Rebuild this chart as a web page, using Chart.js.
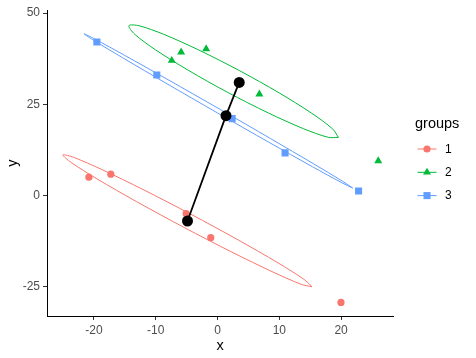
<!DOCTYPE html>
<html><head><meta charset="utf-8">
<script src="https://cdn.jsdelivr.net/npm/chart.js@4/dist/chart.umd.min.js"></script>
<style>html,body{margin:0;padding:0;background:#fff}#wrap{width:476px;height:358px}</style>
</head><body><div id="wrap"><canvas id="c" width="476" height="358"></canvas></div>
<script>
// ---- data ----
const groups = ['1', '2', '3'];
const legendTitle = 'groups';
const xTitle = 'x';
const yTitle = 'y';
const xTicks = [-20, -10, 0, 10, 20];
const yTicks = [-25, 0, 25, 50];

const g1x = [-20.82, -17.27, -5.08, -1.10, 19.98];
const g1y = [5.05, 5.86, -4.95, -11.54, -29.27];
const g2x = [-7.41, -5.89, -1.84, 6.77, 26.01];
const g2y = [37.0, 39.3, 40.2, 27.8, 9.5];
const g3x = [-19.53, -9.83, 2.36, 10.93, 22.83];
const g3y = [42.08, 33.05, 21.08, 11.70, 1.27];

// group centroids (1, 2, 3) and the order in which the black path joins them
const centroidX = [-4.86, 3.51, 1.37];
const centroidY = [-6.97, 31.0, 21.9];
const pathOrder = [0, 2, 1];

// ellipse outlines
const ell1x = [15.30, 13.54, 8.98, 2.32, -5.44, -13.11, -19.53, -23.71, -25.03, -23.27, -18.72, -12.05, -4.29, 3.38, 9.79, 13.98];
const ell1y = [-25.00, -24.31, -20.96, -15.49, -8.71, -1.65, 4.60, 9.10, 11.16, 10.47, 7.13, 1.65, -5.13, -12.19, -18.44, -22.94];
const ell2x = [19.56, 17.90, 13.91, 8.21, 1.64, -4.77, -10.07, -13.43, -14.35, -12.70, -8.71, -3.00, 3.56, 9.98, 15.27, 18.64];
const ell2y = [15.94, 15.97, 18.33, 22.65, 28.28, 34.37, 39.98, 44.26, 46.57, 46.54, 44.19, 39.86, 34.23, 28.14, 22.53, 18.25];
const ell3x = [21.87, 20.15, 15.37, 8.28, -0.05, -8.35, -15.37, -20.02, -21.61, -19.89, -15.12, -8.02, 0.31, 8.61, 15.63, 20.28];
const ell3y = [2.08, 3.49, 7.90, 14.64, 22.69, 30.81, 37.78, 42.52, 44.33, 42.92, 38.51, 31.76, 23.72, 15.59, 8.62, 3.88];

// ---- styling ----
const colors = ['#F8766D', '#00BA38', '#619CFF'];
const shapes = ['circle', 'triangle', 'rect'];
const radii = [3.6, 4.6, 5.0];
const FONT = '"Liberation Sans", Arial, sans-serif';

function pts(xs, ys) { return xs.map((x, i) => ({x: x, y: ys[i]})); }
function closed(xs, ys) { const p = pts(xs, ys); p.push({x: xs[0], y: ys[0]}); return p; }

const groupX = [g1x, g2x, g3x];
const groupY = [g1y, g2y, g3y];
const ellX = [ell1x, ell2x, ell3x];
const ellY = [ell1y, ell2y, ell3y];

const datasets = [];
// centroids on top (index 0 drawn last)
datasets.push({
  label: 'centroids', data: pts(centroidX, centroidY), showLine: false,
  pointRadius: 5.5, pointHoverRadius: 5.5, pointBackgroundColor: '#000', pointBorderColor: '#000', pointBorderWidth: 0
});
datasets.push({
  label: 'path', data: pathOrder.map(i => ({x: centroidX[i], y: centroidY[i]})), showLine: true,
  borderColor: '#000', borderWidth: 1.8, pointRadius: 0, tension: 0
});
groups.forEach((g, i) => {
  datasets.push({
    label: g, data: pts(groupX[i], groupY[i]), showLine: false,
    pointStyle: shapes[i], pointRadius: radii[i], pointHoverRadius: radii[i],
    pointBackgroundColor: colors[i], pointBorderColor: colors[i], pointBorderWidth: 0
  });
});
groups.forEach((g, i) => {
  datasets.push({
    label: 'ellipse ' + g, data: closed(ellX[i], ellY[i]), showLine: true,
    borderColor: colors[i], borderWidth: 1, pointRadius: 0, tension: 0.3, fill: false
  });
});

const legendPlugin = {
  id: 'ggLegend',
  afterDraw(chart) {
    const ctx = chart.ctx;
    ctx.save();
    ctx.fillStyle = '#000';
    ctx.font = '14.5px ' + FONT;
    ctx.textBaseline = 'middle';
    ctx.textAlign = 'left';
    ctx.fillText(legendTitle, 415, 124);
    groups.forEach((g, i) => {
      const y = 149 + i * 23.3;
      ctx.strokeStyle = colors[i];
      ctx.lineWidth = 1;
      ctx.beginPath(); ctx.moveTo(417.5, y); ctx.lineTo(436.5, y); ctx.stroke();
      ctx.fillStyle = colors[i];
      Chart.helpers.drawPoint(ctx, {pointStyle: shapes[i], radius: radii[i], rotation: 0, borderWidth: 0}, 427, y);
      ctx.fillStyle = '#000';
      ctx.font = '12px ' + FONT;
      ctx.fillText(g, 445, y + 0.5);
    });
    ctx.restore();
  }
};

new Chart(document.getElementById('c'), {
  type: 'scatter',
  data: {datasets: datasets},
  plugins: [legendPlugin],
  options: {
    responsive: false, animation: false, devicePixelRatio: 1,
    layout: {padding: {left: 0, right: 83, top: 5, bottom: 0}},
    plugins: {legend: {display: false}, tooltip: {enabled: false}},
    scales: {
      x: {
        type: 'linear', min: -27.6, max: 28.4,
        afterBuildTicks: s => { s.ticks = xTicks.map(v => ({value: v})); },
        afterFit: s => { s.height = 42; },
        ticks: {color: '#4D4D4D', font: {size: 12, family: FONT}, padding: 3},
        grid: {drawOnChartArea: false, drawTicks: true, tickLength: 4, color: '#333333', tickWidth: 1},
        border: {display: true, color: '#000', width: 1},
        title: {display: true, text: xTitle, color: '#000', font: {size: 14.5, family: FONT}, padding: {top: 0, bottom: 3}}
      },
      y: {
        type: 'linear', min: -33.0, max: 50.8,
        afterBuildTicks: s => { s.ticks = yTicks.map(v => ({value: v})); },
        afterFit: s => { s.width = 47; },
        ticks: {color: '#4D4D4D', font: {size: 12, family: FONT}, padding: 3},
        grid: {drawOnChartArea: false, drawTicks: true, tickLength: 4, color: '#333333', tickWidth: 1},
        border: {display: true, color: '#000', width: 1},
        title: {display: true, text: yTitle, color: '#000', font: {size: 14.5, family: FONT}, padding: {top: 4, bottom: 0}}
      }
    }
  }
});
</script></body></html>
